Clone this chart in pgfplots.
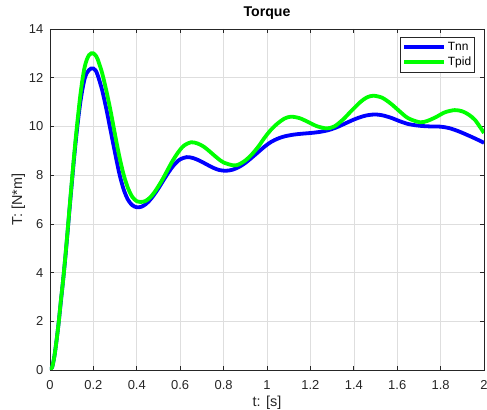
\documentclass[border=0pt]{standalone}
\usepackage{pgfplots}
\pgfplotsset{compat=1.18}
\usepackage{pgfplotstable}
\usepackage{fontspec}
\setmainfont{Liberation Sans}
\definecolor{axgray}{RGB}{38,38,38}
\definecolor{gridgray}{RGB}{222,222,222}
\definecolor{mblue}{RGB}{0,0,255}
\definecolor{mgreen}{RGB}{0,255,0}

\pgfplotstableread{
t v
0 0
0.01 0.12
0.02 0.55
0.03 1.2
0.04 1.95
0.05 2.8
0.06 3.65
0.07 4.55
0.08 5.55
0.09 6.6
0.10 7.6
0.11 8.6
0.12 9.5
0.13 10.3
0.14 11.0
0.15 11.55
0.16 11.97
0.17 12.2
0.18 12.32
0.19 12.38
0.20 12.38
0.21 12.3
0.22 12.1
0.24 11.5
0.26 10.7
0.28 9.8
0.30 8.9
0.32 8.05
0.34 7.4
0.36 6.98
0.38 6.76
0.40 6.68
0.42 6.70
0.44 6.80
0.46 6.97
0.48 7.20
0.50 7.46
0.52 7.75
0.54 8.03
0.56 8.29
0.58 8.50
0.60 8.65
0.63 8.74
0.66 8.70
0.69 8.59
0.72 8.45
0.75 8.31
0.78 8.21
0.81 8.18
0.84 8.22
0.87 8.33
0.90 8.5
0.93 8.72
0.96 8.95
0.99 9.18
1.02 9.37
1.05 9.5
1.08 9.59
1.12 9.66
1.16 9.70
1.20 9.73
1.24 9.77
1.28 9.84
1.32 9.96
1.36 10.12
1.40 10.28
1.44 10.41
1.47 10.47
1.50 10.49
1.53 10.46
1.57 10.36
1.61 10.22
1.65 10.10
1.70 10.03
1.75 10.0
1.80 9.99
1.84 9.93
1.88 9.81
1.92 9.66
1.96 9.5
2.00 9.33
}\tnn

\pgfplotstableread{
t v
0 0
0.01 0.12
0.02 0.55
0.03 1.2
0.04 1.95
0.05 2.85
0.06 3.65
0.07 4.6
0.08 5.6
0.09 6.65
0.10 7.7
0.11 8.7
0.12 9.65
0.13 10.5
0.14 11.3
0.15 11.95
0.16 12.45
0.17 12.75
0.18 12.93
0.19 13.0
0.20 13.0
0.21 12.92
0.22 12.75
0.24 12.2
0.26 11.45
0.28 10.6
0.30 9.65
0.32 8.75
0.34 8.0
0.36 7.45
0.38 7.1
0.40 6.93
0.42 6.9
0.44 6.94
0.46 7.07
0.48 7.28
0.50 7.55
0.52 7.85
0.54 8.18
0.56 8.51
0.58 8.80
0.60 9.05
0.62 9.23
0.65 9.35
0.68 9.30
0.71 9.16
0.74 8.94
0.77 8.71
0.80 8.52
0.845 8.40
0.87 8.44
0.90 8.60
0.93 8.85
0.96 9.17
0.99 9.55
1.02 9.88
1.05 10.13
1.08 10.32
1.11 10.4
1.15 10.34
1.19 10.18
1.23 10.01
1.275 9.92
1.31 10.0
1.35 10.28
1.39 10.65
1.43 11.0
1.46 11.19
1.49 11.26
1.53 11.18
1.57 10.94
1.61 10.63
1.65 10.34
1.705 10.17
1.74 10.23
1.78 10.39
1.82 10.58
1.865 10.67
1.90 10.62
1.93 10.48
1.96 10.25
2.00 9.73
}\tpid

\begin{document}
\begin{tikzpicture}
\begin{axis}[
  scale only axis,
  width=434bp, height=341bp,
  xmin=0, xmax=2, ymin=0, ymax=14,
  xtick={0,0.2,0.4,0.6,0.8,1,1.2,1.4,1.6,1.8,2},
  ytick={0,2,4,6,8,10,12,14},
  /pgf/number format/assume math mode=true,
  tick label style={font=\fontsize{13}{15}\selectfont, color=axgray},
  xticklabel style={anchor=base, inner sep=0pt, yshift=-19bp},
  yticklabel style={anchor=east, inner sep=0pt, xshift=-6.5bp},
  grid=major,
  major grid style={gridgray, line width=0.6bp},
  axis line style={axgray, line width=0.7bp},
  tick style={axgray, line width=0.7bp},
  tick align=inside,
  major tick length=4.3bp,
  title={\bfseries Torque},
  title style={font=\fontsize{14.2}{16}\selectfont, color=black, at={(axis description cs:0.5,1.0205)}, anchor=base, inner sep=0pt},
  xlabel={t: [s]},
  ylabel={T: [N*m]},
  xlabel style={font=\fontsize{14.5}{16}\selectfont, color=axgray, at={(axis description cs:0.5,-0.1056)}, anchor=base, inner sep=0pt},
  ylabel style={font=\fontsize{14.5}{16}\selectfont, color=axgray, at={(axis description cs:-0.0645,0.5)}, anchor=base, inner sep=0pt},
  legend style={at={(axis description cs:1,1)}, anchor=north east, xshift=-9bp, yshift=-8bp,
    draw=axgray, line width=0.7bp, fill=white,
    font=\fontsize{12}{14}\selectfont, text=black,
    inner xsep=2bp, inner ysep=3.5bp, row sep=2bp,
    nodes={inner sep=1.5bp}},
  legend cell align=left,
  legend image code/.code={\draw[#1] (0bp,0bp) -- (40bp,0bp);},
]
\addplot[mblue, line width=3.8bp, smooth] table[x=t, y=v] {\tnn};
\addlegendentry{Tnn}
\addplot[mgreen, line width=3.8bp, smooth] table[x=t, y=v] {\tpid};
\addlegendentry{Tpid}
\end{axis}
\pgfresetboundingbox
\path[use as bounding box] ([xshift=-50bp,yshift=-40bp]current axis.south west) rectangle ([xshift=3bp,yshift=29bp]current axis.north east);
\end{tikzpicture}
\end{document}
